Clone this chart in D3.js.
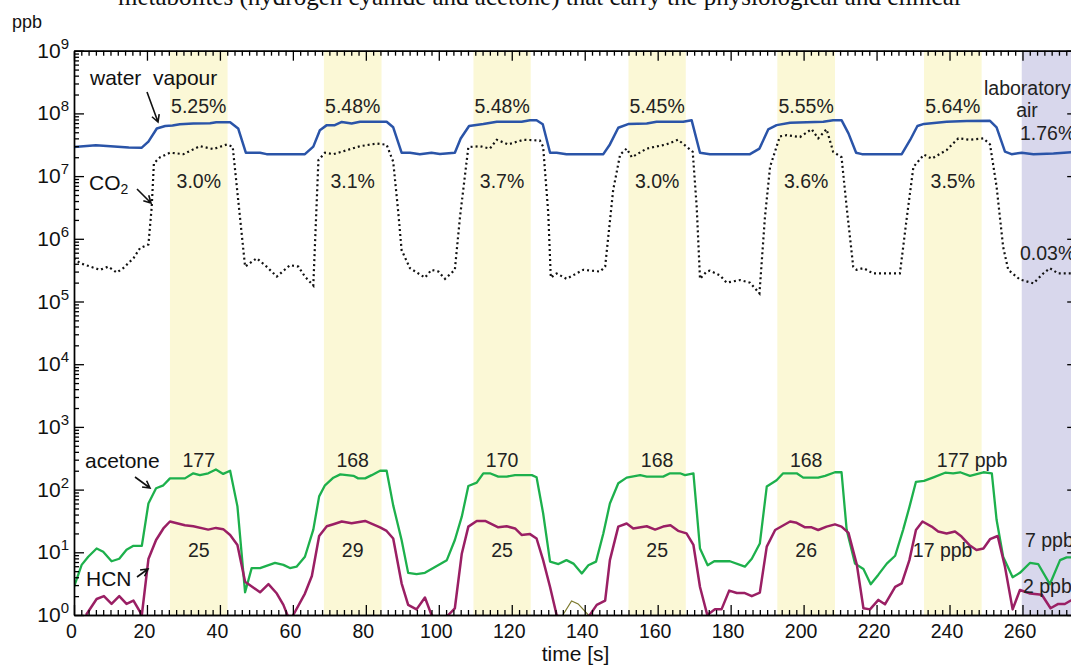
<!DOCTYPE html>
<html>
<head>
<meta charset="utf-8">
<script src="https://cdn.jsdelivr.net/npm/d3@7"></script>
<style>
  html, body { margin: 0; padding: 0; background: #fff; }
  svg { display: block; font-family: "Liberation Sans", Arial, sans-serif; }
</style>
</head>
<body>
<div id="grafico"></div>
<script>
// breath exhalation windows (s) and the laboratory-air window
const breathBands = [[26.3, 42.1], [68.5, 84.3], [109.5, 125.2], [152, 167.7], [192.8, 208.6], [233, 248.8]];
const labAirBand = [259.8, 275];

// labels printed in each breath window
const waterLabels = ["5.25%", "5.48%", "5.48%", "5.45%", "5.55%", "5.64%"];
const co2Labels = ["3.0%", "3.1%", "3.7%", "3.0%", "3.6%", "3.5%"];
const acetoneLabels = ["177", "168", "170", "168", "168", "177 ppb"];
const hcnLabels = ["25", "29", "25", "25", "26", "17 ppb"];

// series: [time s, concentration ppb]
const water = [[0, 2.9e7], [6, 3.1e7], [12, 2.95e7], [15, 2.85e7], [18.5, 2.82e7], [20.4, 3.55e7], [22.7, 5.75e7],
  [25, 6.3e7], [27, 6.4e7], [29, 6.7e7], [32.7, 6.9e7], [37.3, 6.95e7], [39, 7.2e7], [42.8, 7.2e7], [45, 5.75e7],
  [47.1, 2.36e7], [51, 2.36e7], [52.8, 2.24e7], [63.3, 2.24e7], [65.6, 2.95e7], [67.4, 5.4e7], [69.3, 6.5e7],
  [71.5, 6.5e7], [73.4, 7.3e7], [76.1, 6.9e7], [78.4, 7.35e7], [85.7, 7.35e7], [87.5, 6.0e7], [89.8, 2.36e7],
  [92.1, 2.36e7], [94.8, 2.24e7], [98, 2.36e7], [100.3, 2.26e7], [104.4, 2.36e7], [106, 3.98e7], [108.3, 6.3e7],
  [112.2, 6.75e7], [115.9, 7.35e7], [122.7, 7.35e7], [125, 7.8e7], [126.8, 7.8e7], [128.5, 6.7e7], [130.5, 2.36e7],
  [132.3, 2.36e7], [135, 2.24e7], [145.1, 2.24e7], [146.9, 3.2e7], [149.2, 5.9e7], [151.9, 6.75e7], [157, 6.9e7],
  [159.7, 7.35e7], [167, 7.35e7], [169.3, 7.8e7], [171.6, 2.36e7], [174.3, 2.24e7], [185.3, 2.24e7], [187.9, 2.75e7],
  [190.3, 5.55e7], [192.6, 6.5e7], [196.3, 7.1e7], [205.4, 7.35e7], [208.1, 7.8e7], [210.4, 7.8e7], [212.3, 4.8e7],
  [214.4, 2.36e7], [216, 2.24e7], [226.9, 2.24e7], [229.2, 3.77e7], [231.2, 6.3e7], [233, 6.8e7], [239.2, 7.35e7],
  [244.7, 7.55e7], [251.1, 7.6e7], [252.9, 6.0e7], [255.2, 2.45e7], [257, 2.24e7], [259.8, 2.36e7], [263, 2.24e7],
  [268.5, 2.3e7], [275, 2.45e7]];

const co2 = [[0, 4.9e5], [1.6, 4.1e5], [7.1, 3.2e5], [9.4, 3.6e5], [11.7, 2.9e5], [13.5, 3.4e5], [16.3, 4.9e5],
  [18.1, 7.1e5], [20.4, 8.1e5], [21.3, 3.2e6], [21.9, 1.6e7], [23.6, 2.0e7], [26.3, 2.36e7], [30, 2.24e7],
  [34.5, 3.0e7], [38.2, 2.7e7], [41.9, 3.2e7], [43.5, 2.95e7], [45, 4.2e6], [46.9, 3.6e5], [50.1, 4.9e5],
  [52.8, 3.6e5], [55.6, 2.5e5], [59.2, 3.8e5], [61.5, 3.6e5], [63.3, 2.5e5], [65.6, 1.8e5], [67, 1.8e7],
  [68.8, 2.36e7], [71.1, 2.24e7], [72.9, 2.4e7], [78.4, 3.0e7], [83, 3.3e7], [85.7, 3.16e7], [87.5, 1.7e7],
  [88.9, 2.6e6], [89.8, 6.6e5], [92.1, 3.4e5], [96.2, 2.4e5], [98, 3.2e5], [99.9, 3.0e5], [101.7, 2.3e5],
  [104.4, 3.2e5], [105.8, 2.2e6], [108.1, 2.9e7], [111.3, 3.0e7], [114, 2.75e7], [115.9, 3.8e7], [119, 3.2e7],
  [123.2, 3.8e7], [127.7, 3.7e7], [128.6, 2.95e7], [130, 2.6e6], [130.7, 2.4e5], [132.3, 2.8e5], [135, 2.3e5],
  [139.6, 3.2e5], [144.2, 3.0e5], [145.6, 3.6e5], [147.8, 6.0e6], [149.7, 2.2e7], [151.5, 2.75e7], [152.9, 2.0e7],
  [157, 2.75e7], [162.4, 3.2e7], [165.6, 3.8e7], [169.6, 2.45e7], [170.7, 3.2e6], [171.6, 2.3e5], [173.4, 3.0e5],
  [174.3, 3.1e5], [177.1, 2.6e5], [178.9, 2.0e5], [182.6, 2.2e5], [185.3, 2.0e5], [187.9, 1.35e5], [189.4, 2.2e6],
  [190.8, 1.4e7], [193.5, 4.3e7], [195.4, 4.5e7], [199, 4.2e7], [202.2, 5.6e7], [204, 4.0e7], [206.3, 5.6e7],
  [208.1, 2.45e7], [210.4, 2.0e7], [211.8, 3.2e6], [213.6, 3.6e5], [214.5, 3.2e5], [216.4, 3.4e5], [219.1, 2.8e5],
  [226.4, 2.8e5], [228.3, 2.2e6], [230.1, 1.4e7], [233, 2.2e7], [235.1, 1.9e7], [239.2, 2.6e7], [242.4, 4.0e7],
  [245.6, 3.8e7], [249.3, 4.0e7], [251.1, 3.2e7], [252.9, 6.8e6], [254.7, 7.4e5], [256.1, 3.2e5], [259.3, 2.24e5],
  [263, 1.95e5], [265.7, 2.8e5], [267.5, 3.4e5], [269.8, 2.8e5], [275, 2.8e5]];

const acetone = [[0, 2.8], [2.1, 6.3], [3.9, 8.5], [6.2, 11.5], [8, 10.2], [10.3, 7.2], [12.4, 7.9], [14.4, 11],
  [16.3, 12.7], [18.6, 12.7], [20.4, 60], [22.5, 105], [24.5, 117], [26.3, 151], [30.4, 151], [32.7, 182],
  [34.5, 170], [36.8, 182], [38.9, 209], [40.9, 178], [42.8, 200], [44.8, 54], [46.9, 2.3], [48.7, 5.6], [51, 5.6],
  [55.1, 6.8], [57.4, 6.3], [59.2, 5.6], [61, 5.9], [63.3, 8.5], [65.6, 23], [67.2, 78], [68.8, 117], [71.1, 155],
  [73, 175], [76.6, 166], [77.9, 151], [79.8, 151], [81.6, 170], [83.9, 200], [85.7, 200], [87.5, 56], [89.8, 15.7],
  [91.6, 4.7], [93.9, 4.5], [96.2, 4.7], [102.2, 7.5], [104.4, 15.7], [106.3, 37], [108.1, 114], [110.4, 129],
  [112.2, 182], [114, 182], [116.3, 161], [118.6, 161], [120.9, 170], [125.5, 170], [126.8, 157], [128.6, 42],
  [130.5, 7.1], [132.8, 6.5], [135, 7.5], [136.9, 6.6], [139.2, 4.6], [141, 6.2], [143.1, 7.1], [145.1, 20],
  [146.9, 60], [149.2, 126], [151.5, 155], [155.2, 170], [157, 161], [161.5, 161], [163.4, 182], [166.1, 182],
  [167.5, 170], [169.8, 182], [171.6, 11.5], [173.7, 6.2], [175.5, 7.2], [179.8, 7.2], [183.9, 5.9], [185.8, 7.9],
  [188, 13.8], [189.9, 112], [192.6, 141], [194.4, 182], [198.1, 182], [199.9, 155], [204, 155], [205.9, 166],
  [208.6, 189], [210.4, 189], [211.8, 23], [214.1, 6.6], [216.4, 5.4], [218.4, 3.1], [220.5, 4.4], [222.8, 6.6],
  [225.1, 8.8], [227.3, 23], [229, 52.5], [230.8, 133], [233, 138], [235.6, 157], [238.8, 186], [241, 182],
  [242.9, 189], [245.6, 166], [249.3, 189], [251.6, 182], [252.9, 33], [254.7, 8.5], [257.3, 4.0], [259.3, 4.7],
  [262.1, 6.8], [264.3, 6.5], [267.5, 3.1], [270.3, 7.5], [272.1, 8.3], [275, 8.3]];

const hcn = [[3.3, 1], [6.2, 1.8], [8.2, 2.0], [10.3, 1.5], [12.4, 2.0], [14.4, 1.5], [16.3, 1.7], [18.6, 1],
  [20.4, 7.8], [22.5, 15.7], [24.5, 24], [26.3, 31], [30.4, 27], [32.7, 26], [36.8, 23], [38.9, 24.5], [40.9, 23.4],
  [42.8, 18.9], [44.8, 13.1], [46.9, 3.4], [51, 2.3], [53.3, 3.1], [55.6, 2.2], [57.4, 1.45], [58.5, 1], [59.3, 0.85],
  [60.1, 1], [63.3, 2.2], [65.2, 4.2], [67.2, 18.2], [69.3, 26], [71.1, 28], [73.4, 31], [76.1, 29], [79.8, 31.6],
  [83.9, 25], [85.7, 21.9], [87.5, 16.6], [89.8, 3.2], [91.6, 1.45], [93.9, 1.23], [96.2, 1.9], [98, 1], [100.3, 0.8],
  [102.6, 1], [104.4, 1.28], [106.3, 9.5], [108.1, 25.7], [110.4, 31.6], [112.7, 31.6], [116.3, 25], [118.6, 26],
  [120.9, 24], [122.7, 18.9], [125, 19.5], [126.8, 16.6], [128.6, 7.5], [130.5, 2.8], [132.3, 1], [137, 0.6],
  [141.4, 1], [143.3, 1.45], [145.6, 1.7], [146.9, 7.5], [149.2, 25.7], [151.5, 28.8], [153.3, 24], [157, 26],
  [159.3, 23], [161.5, 25.7], [163.5, 27], [165.6, 22], [167.9, 20], [169.8, 13.1], [171.6, 2.8], [173.6, 1],
  [175.7, 1.23], [177.5, 1.23], [179.6, 2.45], [181.7, 2.24], [183.9, 2.24], [185.8, 2.0], [188, 2.27], [189.9, 12.3],
  [192.2, 22.7], [196.3, 31], [198.1, 29.5], [200.4, 25], [202.2, 25], [204, 22.7], [206.3, 25.7], [208.6, 27.9],
  [210.4, 25.7], [212.3, 20.4], [214.6, 6.3], [216.4, 1.28], [218.2, 1.23], [220.5, 1.74], [222.3, 1.48],
  [225.1, 2.8], [226.9, 3.2], [229, 7.5], [230.8, 22.7], [232.6, 31], [235.1, 25.7], [236.9, 21.4], [239.2, 20],
  [241.5, 21.4], [243.3, 17.8], [245.4, 13.1], [247.4, 10.9], [249.3, 11.5], [251.1, 16.2], [253.2, 18.2],
  [255.2, 5.9], [257.3, 1.23], [259.3, 2.5], [262.1, 2.2], [265.3, 2.1], [267.7, 1.28], [269.8, 1.5], [271.6, 1.5],
  [275, 1.95]];

// small trace near t = 140 s
const minorTrace = [[134, 1], [136.4, 1.67], [138.2, 1.5], [141, 1]];

// tick values
const xMajorTicks = d3.range(0, 261, 20);
const xMinorTicks = d3.range(0, 276, 2).filter(t => t % 20 !== 0);
const yDecades = d3.range(0, 10);

desenharGrafico();

function desenharGrafico() {
    const largura = 1071, altura = 667;
    const left = 74, top = 50.7, bottom = 615;
    const xMax = 275;
    const pxPorSegundo = 3.648;
    const right = left + xMax * pxPorSegundo;

    const svg = d3.select("#grafico")
        .append("svg")
        .attr("width", largura)
        .attr("height", altura);

    svg.append("rect").attr("width", largura).attr("height", altura).attr("fill", "#fff");

    // Escalas
    const x = d3.scaleLinear().domain([0, xMax]).range([left, right]);
    const y = d3.scaleLog().domain([1, 1e9]).range([bottom, top]);

    svg.append("clipPath").attr("id", "area")
        .append("rect")
        .attr("x", left).attr("y", top)
        .attr("width", right - left).attr("height", bottom - top);

    // sentence of the page cut at the top
    svg.append("text")
        .attr("x", 118).attr("y", 4.5)
        .style("font-family", "'Liberation Serif', 'Times New Roman', serif")
        .style("font-size", "25px")
        .attr("fill", "#111")
        .text("metabolites (hydrogen cyanide and acetone) that carry the physiological and clinical");

    // Bandas
    svg.selectAll("rect.band")
        .data(breathBands)
        .enter()
        .append("rect")
        .attr("class", "band")
        .attr("x", d => x(d[0]))
        .attr("y", top)
        .attr("width", d => x(d[1]) - x(d[0]))
        .attr("height", bottom - top)
        .attr("fill", "#fbf8d6");

    svg.append("rect")
        .attr("x", x(labAirBand[0]))
        .attr("y", top)
        .attr("width", x(labAirBand[1]) - x(labAirBand[0]))
        .attr("height", bottom - top)
        .attr("fill", "#d8d7ec");

    // Linhas
    const linha = d3.line().x(d => x(d[0])).y(d => y(d[1]));
    const linhas = svg.append("g").attr("clip-path", "url(#area)").attr("fill", "none");

    linhas.append("path").datum(minorTrace).attr("d", linha)
        .attr("stroke", "#7d7a2e").attr("stroke-width", 1.2);
    linhas.append("path").datum(water).attr("d", linha)
        .attr("stroke", "#2a54a8").attr("stroke-width", 2.5).attr("stroke-linejoin", "round");
    linhas.append("path").datum(co2).attr("d", linha)
        .attr("stroke", "#111").attr("stroke-width", 2.2).attr("stroke-dasharray", "2,3");
    linhas.append("path").datum(acetone).attr("d", linha)
        .attr("stroke", "#1db04c").attr("stroke-width", 2.3).attr("stroke-linejoin", "round");
    linhas.append("path").datum(hcn).attr("d", linha)
        .attr("stroke", "#9a1f64").attr("stroke-width", 2.5).attr("stroke-linejoin", "round");

    // Eixos
    const yMinor = [];
    yDecades.slice(0, -1).forEach(e => d3.range(2, 10).forEach(m => yMinor.push(m * Math.pow(10, e))));
    const yMajor = yDecades.map(e => Math.pow(10, e));

    function estilo(g) {
        g.selectAll("path.domain").attr("stroke", "#000").attr("stroke-width", 1.4);
        g.selectAll(".tick line").attr("stroke", "#000").attr("stroke-width", 1.3);
    }

    // minor ticks
    svg.append("g").attr("transform", `translate(0,${bottom})`)
        .call(d3.axisBottom(x).tickValues(xMinorTicks).tickSize(-5).tickSizeOuter(0).tickFormat(""))
        .call(estilo);
    svg.append("g").attr("transform", `translate(0,${top})`)
        .call(d3.axisTop(x).tickValues(xMinorTicks).tickSize(-5).tickSizeOuter(0).tickFormat(""))
        .call(estilo);
    svg.append("g").attr("transform", `translate(${left},0)`)
        .call(d3.axisLeft(y).tickValues(yMinor).tickSize(-5).tickSizeOuter(0).tickFormat(""))
        .call(estilo);
    svg.append("g").attr("transform", `translate(${right},0)`)
        .call(d3.axisRight(y).tickValues(yMinor).tickSize(-5).tickSizeOuter(0).tickFormat(""))
        .call(estilo);

    // major ticks
    const eixoX = svg.append("g").attr("transform", `translate(0,${bottom})`)
        .call(d3.axisBottom(x).tickValues(xMajorTicks).tickSize(-10).tickSizeOuter(0).tickPadding(9))
        .call(estilo);
    eixoX.selectAll("text")
        .attr("dx", -3)
        .attr("fill", "#111")
        .style("font-family", "'Liberation Sans', Arial, sans-serif")
        .style("font-size", "19.5px");

    svg.append("g").attr("transform", `translate(0,${top})`)
        .call(d3.axisTop(x).tickValues(xMajorTicks).tickSize(-10).tickSizeOuter(0).tickFormat(""))
        .call(estilo);
    svg.append("g").attr("transform", `translate(${left},0)`)
        .call(d3.axisLeft(y).tickValues(yMajor).tickSize(-10).tickSizeOuter(0).tickFormat(""))
        .call(estilo);
    svg.append("g").attr("transform", `translate(${right},0)`)
        .call(d3.axisRight(y).tickValues(yMajor).tickSize(-10).tickSizeOuter(0).tickFormat(""))
        .call(estilo);

    // y labels 10^n
    const rotY = svg.append("g").attr("fill", "#111");
    yDecades.forEach(e => {
        const t = rotY.append("text")
            .attr("x", 69)
            .attr("y", y(Math.pow(10, e)) + 7)
            .attr("text-anchor", "end")
            .style("font-size", "21px");
        t.append("tspan").text("10");
        t.append("tspan").attr("dy", -9).style("font-size", "15px").text(e);
    });

    svg.append("text").attr("x", 12).attr("y", 28)
        .style("font-size", "18px").attr("fill", "#111").text("ppb");

    svg.append("text").attr("x", (left + right) / 2).attr("y", 661)
        .attr("text-anchor", "middle").style("font-size", "21px").attr("fill", "#111")
        .text("time [s]");

    // Rotulos das bandas
    const centro = d => x((d[0] + d[1]) / 2);
    function rotulos(textos, yBase, ajuste) {
        svg.append("g").selectAll("text")
            .data(textos)
            .enter()
            .append("text")
            .attr("x", (d, i) => centro(breathBands[i]) + (ajuste[i] || 0))
            .attr("y", yBase)
            .attr("text-anchor", (d, i) => ajuste[i] !== undefined ? "start" : "middle")
            .style("font-size", "19.5px")
            .attr("fill", "#222")
            .text(d => d);
    }
    rotulos(waterLabels, 113, {});
    rotulos(co2Labels, 188, {});
    rotulos(acetoneLabels, 466.5, { 5: -16 });
    rotulos(hcnLabels, 557, { 5: -40 });

    // labels for laboratory air
    const lab = svg.append("g").attr("fill", "#222").style("font-size", "19.5px");
    lab.append("text").attr("x", 984).attr("y", 95).text("laboratory");
    lab.append("text").attr("x", 1027).attr("y", 117).attr("text-anchor", "middle").text("air");
    lab.append("text").attr("x", 1020).attr("y", 140).text("1.76%");
    lab.append("text").attr("x", 1020).attr("y", 260).text("0.03%");
    lab.append("text").attr("x", 1025).attr("y", 547).text("7 ppb");
    lab.append("text").attr("x", 1023).attr("y", 593).text("2 ppb");

    // Nomes das series com setas
    const nomes = svg.append("g").attr("fill", "#111").style("font-size", "21px");
    nomes.append("text").attr("x", 90).attr("y", 85).attr("xml:space", "preserve").text("water  vapour");
    const co2Txt = nomes.append("text").attr("x", 89).attr("y", 190);
    co2Txt.append("tspan").text("CO");
    co2Txt.append("tspan").attr("dy", 4).style("font-size", "14px").text("2");
    nomes.append("text").attr("x", 85).attr("y", 468).text("acetone");
    nomes.append("text").attr("x", 86).attr("y", 586).text("HCN");

    const setas = [
        [147, 92, 158, 122],
        [137, 189, 151, 203],
        [135, 477, 150, 488],
        [137, 577, 148, 569]
    ];
    const gSetas = svg.append("g").attr("stroke", "#111").attr("stroke-width", 1.6).attr("fill", "none");
    setas.forEach(s => {
        const ang = Math.atan2(s[3] - s[1], s[2] - s[0]);
        const len = 8, abre = 0.5;
        const a1 = [s[2] - len * Math.cos(ang - abre), s[3] - len * Math.sin(ang - abre)];
        const a2 = [s[2] - len * Math.cos(ang + abre), s[3] - len * Math.sin(ang + abre)];
        gSetas.append("path")
            .attr("d", `M${s[0]},${s[1]}L${s[2]},${s[3]}M${a1[0]},${a1[1]}L${s[2]},${s[3]}L${a2[0]},${a2[1]}`);
    });
}
</script>
</body>
</html>
